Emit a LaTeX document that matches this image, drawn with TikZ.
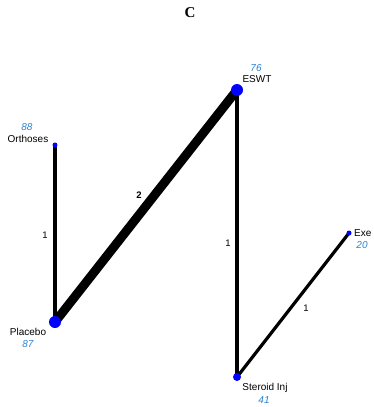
\documentclass[tikz,border=0pt]{standalone}
\usepackage{fontspec}
\setmainfont{Liberation Sans}
\newfontfamily\titlefont{Liberation Serif}
\definecolor{numblue}{RGB}{40,130,210}
\definecolor{nodeblue}{RGB}{0,0,255}
\begin{document}
\begin{tikzpicture}[x=1pt,y=-1pt,
  trt/.style={circle,fill=nodeblue,inner sep=0pt},
  lbl/.style={font=\fontsize{10}{11}\selectfont,inner sep=0pt},
  num/.style={font=\fontsize{10}{11}\selectfont\itshape,text=numblue,inner sep=0pt},
  edge1/.style={line width=3.2pt},
  edge2/.style={line width=9pt},
  elbl/.style={font=\fontsize{9.5}{10}\selectfont,inner sep=0pt}]
\useasboundingbox (0,0) rectangle (374,407);
\node[font=\titlefont\bfseries\fontsize{15}{17}\selectfont] (title) at (190,13) {C};
% node positions
\coordinate (ESWTc) at (237,90);
\coordinate (ORTc) at (55,145);
\coordinate (PLAc) at (55,322);
\coordinate (STEc) at (237,377);
\coordinate (EXEc) at (349,233);
% edges
\draw[edge1] (ORTc) -- (PLAc);
\draw[edge2] (PLAc) -- (ESWTc);
\draw[edge1] (ESWTc) -- (STEc);
\draw[edge1] (STEc) -- (EXEc);
\node[elbl] (e1) at (45,235) {1};
\node[elbl,font=\fontsize{9.5}{10}\selectfont\bfseries] (e2) at (139,195) {2};
\node[elbl] (e3) at (228,243) {1};
\node[elbl] (e4) at (306,308) {1};
% nodes
\node[trt,minimum size=12pt] (ESWT) at (ESWTc) {};
\node[trt,minimum size=5pt] (ORT) at (ORTc) {};
\node[trt,minimum size=12pt] (PLA) at (PLAc) {};
\node[trt,minimum size=8pt] (STE) at (STEc) {};
\node[trt,minimum size=5pt] (EXE) at (EXEc) {};
% labels
\node[lbl] (ESWTl) at (257,79) {ESWT};
\node[num] (ESWTn) at (256,68) {76};
\node[lbl] (ORTl) at (28,139) {Orthoses};
\node[num] (ORTn) at (27,127) {88};
\node[lbl] (PLAl) at (28,332) {Placebo};
\node[num] (PLAn) at (28,344) {87};
\node[lbl] (STEl) at (265,388) {Steroid Inj};
\node[num] (STEn) at (264,400) {41};
\node[lbl,anchor=west] (EXEl) at (354,233) {Exe};
\node[num] (EXEn) at (362,245) {20};
\end{tikzpicture}
\end{document}
